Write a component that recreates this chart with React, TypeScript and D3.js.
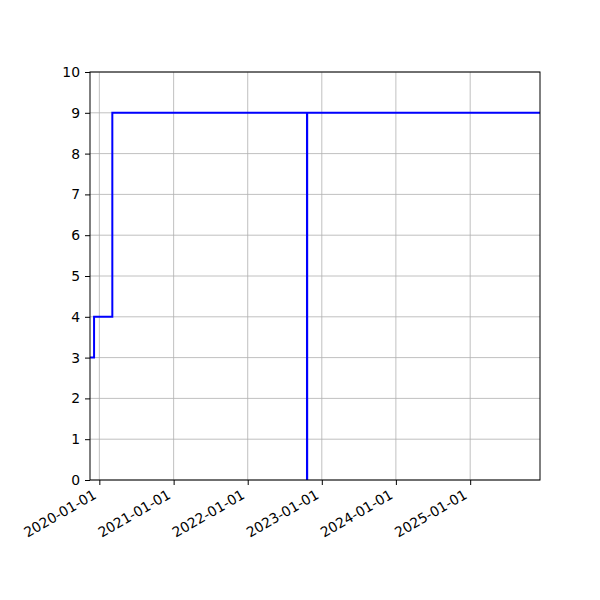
import React, { useEffect, useRef } from "react";
import * as d3 from "d3";

// step series
const dates = ["2019-11-16", "2019-12-06", "2020-03-05", "2022-10-20", "2022-10-21", "2025-12-11"];
const values = [3, 4, 9, 0, 9, 9];
const xTicks = ["2020-01-01", "2021-01-01", "2022-01-01", "2023-01-01", "2024-01-01", "2025-01-01"];
const yTicks = [0, 1, 2, 3, 4, 5, 6, 7, 8, 9, 10];

const width = 600, height = 600;
const margin = { top: 72, right: 60, bottom: 120, left: 90 };

const App: React.FC = () => {
  const ref = useRef<SVGSVGElement>(null);

  useEffect(() => {
    const parse = d3.utcParse("%Y-%m-%d");
    const data = dates.map((d, i) => ({ date: parse(d) as Date, value: values[i] }));

    const x = d3.scaleUtc()
      .domain(d3.extent(data, d => d.date) as [Date, Date])
      .range([margin.left, width - margin.right]);
    const y = d3.scaleLinear().domain([0, 10]).range([height - margin.bottom, margin.top]);

    const svg = d3.select(ref.current);
    svg.selectAll("*").remove();

    const font = "DejaVu Sans, sans-serif";

    // grid
    const grid = svg.append("g").attr("stroke", "#b0b0b0").attr("stroke-width", 0.8);
    grid.selectAll("line.gx")
      .data(xTicks.map(t => parse(t) as Date))
      .join("line")
      .attr("x1", d => x(d)).attr("x2", d => x(d))
      .attr("y1", margin.top).attr("y2", height - margin.bottom);
    grid.selectAll("line.gy")
      .data(yTicks)
      .join("line")
      .attr("x1", margin.left).attr("x2", width - margin.right)
      .attr("y1", d => y(d)).attr("y2", d => y(d));

    // the step line
    const line = d3.line<{ date: Date; value: number }>()
      .x(d => x(d.date))
      .y(d => y(d.value))
      .curve(d3.curveStepAfter);

    const clipId = "plot-clip";
    svg.append("clipPath").attr("id", clipId)
      .append("rect")
      .attr("x", margin.left).attr("y", margin.top)
      .attr("width", width - margin.left - margin.right)
      .attr("height", height - margin.top - margin.bottom);

    svg.append("path")
      .datum(data)
      .attr("clip-path", `url(#${clipId})`)
      .attr("fill", "none")
      .attr("stroke", "#0000ff")
      .attr("stroke-width", 2)
      .attr("d", line);

    // frame
    svg.append("rect")
      .attr("x", margin.left).attr("y", margin.top)
      .attr("width", width - margin.left - margin.right)
      .attr("height", height - margin.top - margin.bottom)
      .attr("fill", "none").attr("stroke", "black").attr("stroke-width", 1);

    // x axis
    const xAxis = d3.axisBottom(x)
      .tickValues(xTicks.map(t => parse(t) as Date))
      .tickFormat(d3.utcFormat("%Y-%m-%d") as any)
      .tickSize(5).tickSizeOuter(0);
    const gx = svg.append("g")
      .attr("transform", `translate(0,${height - margin.bottom})`)
      .call(xAxis);
    gx.select(".domain").remove();
    gx.selectAll("text")
      .attr("font-family", font).attr("font-size", 13.9)
      .attr("fill", "black")
      .attr("text-anchor", "end")
      .attr("x", 0).attr("y", 0).attr("dy", 0)
      .attr("transform", "translate(-2.5,17.5) rotate(-30)");

    // y axis
    const yAxis = d3.axisLeft(y).tickValues(yTicks).tickSize(5).tickSizeOuter(0).tickPadding(5);
    const gy = svg.append("g")
      .attr("transform", `translate(${margin.left},0)`)
      .call(yAxis);
    gy.select(".domain").remove();
    gy.selectAll("text")
      .attr("font-family", font).attr("font-size", 13.9)
      .attr("fill", "black");
  }, []);

  return (
    <svg ref={ref} width={width} height={height}
      style={{ display: "block", position: "absolute", left: 0, top: 0, background: "white" }} />
  );
};

export default App;
